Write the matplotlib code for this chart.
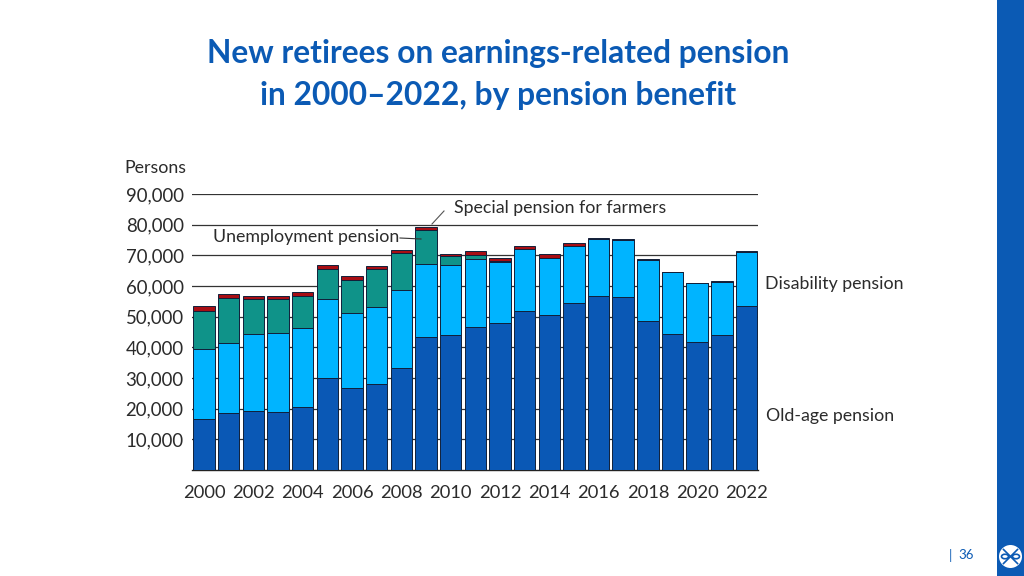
import numpy as np
from matplotlib import pyplot as plt
from matplotlib.patches import Circle, Ellipse, Rectangle

plt.rcParams['font.family'] = ['Lato', 'DejaVu Sans']

W, H = 1024, 576

years = list(range(2000, 2023))
old_age = [16.6, 18.6, 19.2, 18.9, 20.4, 30.0, 26.8, 28.0, 33.4, 43.3, 44.0, 46.5,
           47.9, 51.8, 50.6, 54.6, 56.7, 56.3, 48.5, 44.3, 41.6, 43.9, 53.5]
disability = [22.7, 22.7, 25.0, 25.7, 26.0, 25.6, 24.3, 25.1, 25.2, 23.8, 22.7, 22.4,
              20.0, 20.4, 18.6, 18.4, 18.7, 18.6, 20.0, 20.2, 19.3, 17.4, 17.7]
unemployment = [12.5, 14.9, 11.4, 11.0, 10.4, 9.8, 10.9, 12.3, 12.0, 11.0, 3.1, 1.3,
                0.3, 0, 0, 0, 0, 0, 0, 0, 0, 0, 0]
farmers = [1.7, 1.2, 1.2, 1.0, 1.1, 1.3, 1.4, 1.1, 1.2, 1.3, 0.7, 1.1,
           0.8, 0.9, 1.1, 0.9, 0.2, 0.3, 0.2, 0.2, 0.2, 0.3, 0.1]

series = [old_age, disability, unemployment, farmers]
colors = ['#0A58B5', '#00B4FF', '#0F9389', '#A80E14']

y_ticks = list(range(10000, 100000, 10000))
x_ticks = years[::2]

BLUE = '#0B5AB4'
TEXT = '#2B2B2B'


def fx(px):
    return px / W


def fy(py):
    return 1 - py / H


fig = plt.figure(figsize=(W / 100, H / 100), dpi=100)
ax = fig.add_axes([fx(192), fy(470), (758 - 192) / W, (470 - 194) / H])

# stacked bars
bottom = np.zeros(len(years))
for values, color in zip(series, colors):
    values = np.array(values) * 1000
    ax.bar(years, values, bottom=bottom, width=0.87, color=color,
           edgecolor='#10203A', linewidth=0.7, zorder=3)
    bottom += values

ax.set_xlim(2000 - 0.487, 2022 + 0.466)
ax.set_ylim(0, 90000)
ax.set_yticks(y_ticks)
ax.set_yticklabels([f'{v:,}' for v in y_ticks])
ax.set_xticks(x_ticks)
ax.set_xticklabels([str(y) for y in x_ticks])
ax.tick_params(axis='both', length=0, labelcolor=TEXT)
ax.tick_params(axis='y', pad=6, labelsize=13.4)
ax.tick_params(axis='x', pad=11, labelsize=13.2)
ax.grid(axis='y', color='#333333', linewidth=0.9, zorder=0)
ax.set_axisbelow(True)
for name in ['top', 'right', 'left']:
    ax.spines[name].set_visible(False)
ax.spines['bottom'].set_color('#222222')
ax.spines['bottom'].set_linewidth(1.0)

# title
fig.text(fx(498), fy(54), 'New retirees on earnings-related pension', fontsize=22.9,
         fontweight='bold', color=BLUE, ha='center', va='center')
fig.text(fx(498), fy(95), 'in 2000\u20132022, by pension benefit', fontsize=22.9,
         fontweight='bold', color=BLUE, ha='center', va='center')

# labels around the chart
fig.text(fx(124), fy(168), 'Persons', fontsize=12.8, color=TEXT, va='center')
fig.text(fx(454), fy(208), 'Special pension for farmers', fontsize=12.75, color=TEXT, va='center')
fig.text(fx(213), fy(237), 'Unemployment pension', fontsize=12.75, color=TEXT, va='center')
fig.text(fx(765), fy(284), 'Disability pension', fontsize=12.75, color=TEXT, va='center')
fig.text(fx(766), fy(416), 'Old-age pension', fontsize=12.75, color=TEXT, va='center')

# leader lines
fig.add_artist(plt.Line2D([fx(400), fx(421)], [fy(238), fy(239)], color='#333333', linewidth=0.8))
fig.add_artist(plt.Line2D([fx(432), fx(444)], [fy(224), fy(211)], color='#555555', linewidth=0.8))

# side band, page number and logo
fig.add_artist(Rectangle((fx(997), 0), 27 / W, 1, transform=fig.transFigure,
                         facecolor=BLUE, edgecolor='none'))
fig.text(fx(950), fy(555), '|', fontsize=9.5, color=BLUE, ha='center', va='center')
fig.text(fx(958), fy(555), '36', fontsize=9.5, color=BLUE, va='center')

logo = fig.add_axes([fx(997), fy(570), 27 / W, 27 / H], zorder=5)
logo.set_xlim(-13.5, 13.5)
logo.set_ylim(-13.5, 13.5)
logo.axis('off')
logo.add_patch(Circle((0, 0), 11.5, facecolor='white', edgecolor='none'))
logo.plot([-7, 7], [7, -7], color=BLUE, linewidth=1.2)
logo.plot([-7, 7], [-7, 7], color=BLUE, linewidth=1.2)
logo.add_patch(Ellipse((-5.5, 0), 7, 4.5, facecolor='white', edgecolor=BLUE, linewidth=1.2))
logo.add_patch(Ellipse((5.5, 0), 7, 4.5, facecolor='white', edgecolor=BLUE, linewidth=1.2))

fig.savefig('out.png', dpi=100)
